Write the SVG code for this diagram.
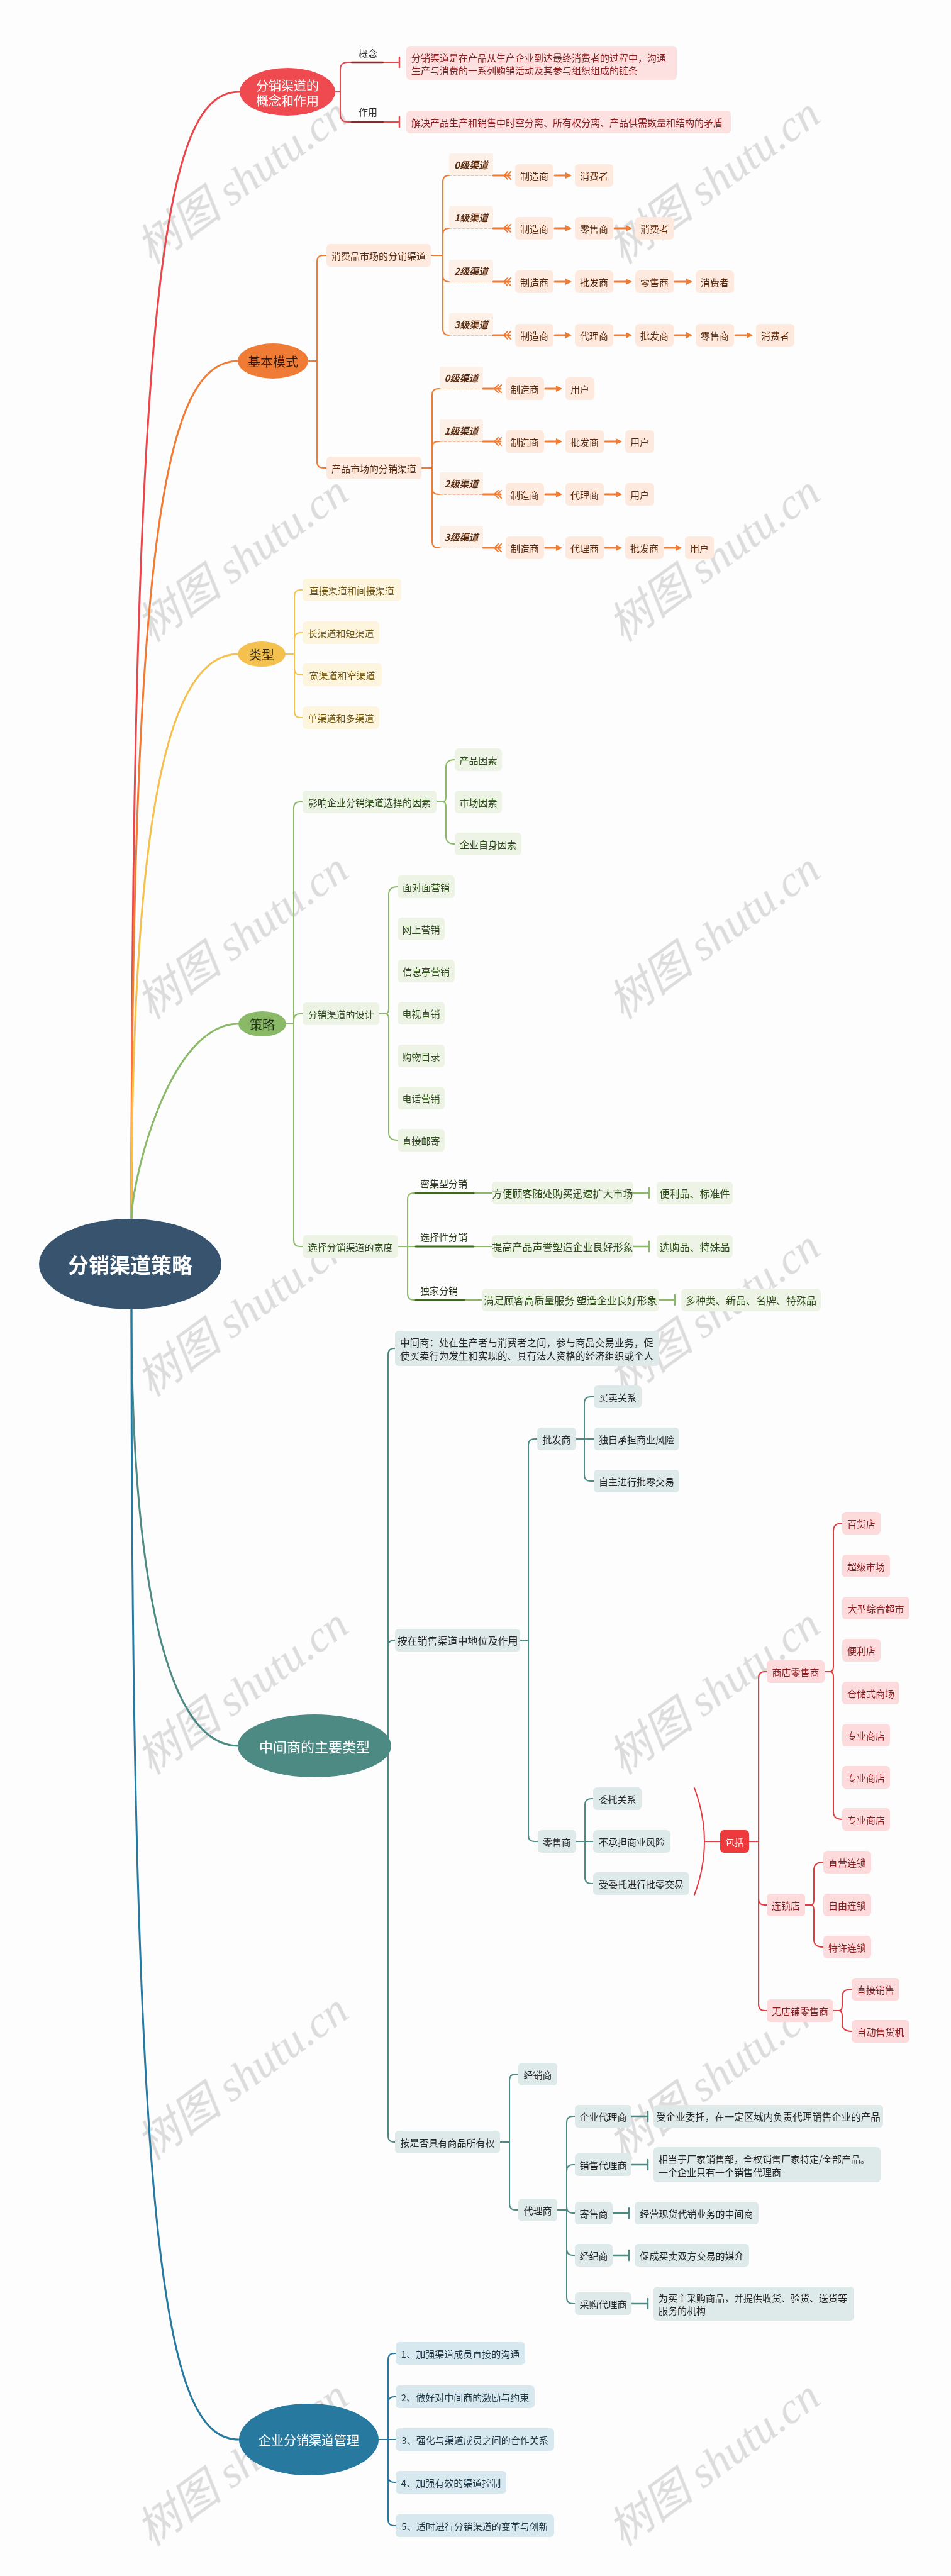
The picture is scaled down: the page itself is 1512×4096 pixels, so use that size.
<svg xmlns="http://www.w3.org/2000/svg" width="1512" height="4096" viewBox="0 0 1512 4096">
<defs>
<marker id="ar" viewBox="0 0 10 10" refX="7" refY="5" markerWidth="10" markerHeight="10" markerUnits="userSpaceOnUse" orient="auto"><path d="M0 0 L10 5 L0 10 z" fill="#ef7b35"/></marker>
</defs>
<style>
text{font-family:"Noto Sans CJK SC","Noto Sans",sans-serif;font-size:15px;dominant-baseline:central}
.c{text-anchor:middle}
rect{rx:6px;ry:6px}
.cn path{fill:none;stroke-width:2;stroke-linecap:round}
.main path{fill:none;stroke-width:3;stroke-linecap:round}
.r1 rect{fill:#fde1e0}.r1 text{fill:#8a1f22}
.or rect{fill:#fde9dd}.or text{fill:#5a2a0e}
.lb rect{fill:#fdf0e7}.lb text{fill:#5a2a0e;font-weight:bold;font-style:italic}
.ye rect{fill:#fef5df}.ye text{fill:#6f5612}
.gr rect{fill:#edf4e6}.gr text{fill:#304d1c}
.g16 text{font-size:16px}
.te rect{fill:#deeaea}.te text{fill:#262626}
.pk rect{fill:#fddadb}.pk text{fill:#8a1c1f}
.bl rect{fill:#d7e8ef}.bl text{fill:#213847}
.lab{fill:#333;font-size:15px}
.wm text{font-family:"Liberation Serif","Noto Sans CJK SC",serif;font-size:70px;font-style:italic;fill:#d0d0d0;text-anchor:middle}
</style>
<rect x="0" y="0" width="1512" height="4096" fill="#fdfdfd" style="rx:0;ry:0"/>

<g id="watermark" class="wm" opacity="0.75">
<text transform="translate(385 287) rotate(-36)">树图 shutu.cn</text>
<text transform="translate(1135 287) rotate(-36)">树图 shutu.cn</text>
<text transform="translate(385 888) rotate(-36)">树图 shutu.cn</text>
<text transform="translate(1135 888) rotate(-36)">树图 shutu.cn</text>
<text transform="translate(385 1488) rotate(-36)">树图 shutu.cn</text>
<text transform="translate(1135 1488) rotate(-36)">树图 shutu.cn</text>
<text transform="translate(385 2088) rotate(-36)">树图 shutu.cn</text>
<text transform="translate(1135 2088) rotate(-36)">树图 shutu.cn</text>
<text transform="translate(385 2689) rotate(-36)">树图 shutu.cn</text>
<text transform="translate(1135 2689) rotate(-36)">树图 shutu.cn</text>
<text transform="translate(385 3302) rotate(-36)">树图 shutu.cn</text>
<text transform="translate(1135 3302) rotate(-36)">树图 shutu.cn</text>
<text transform="translate(385 3916) rotate(-36)">树图 shutu.cn</text>
<text transform="translate(1135 3916) rotate(-36)">树图 shutu.cn</text>
</g>

<g id="connectors">
<g class="main">
<path d="M209 2010 L209 1940 C209 396 269 146 381 146" stroke="#e9474c"/>
<path d="M209 2010 L209 1940 C209 824 268 574 378 574" stroke="#ef7b35"/>
<path d="M209 2010 L209 1940 C209 1290 268 1040 379 1040" stroke="#f4c14f"/>
<path d="M209 2010 L209 1940 C209 1878 268 1628 379 1628" stroke="#8ab968"/>
<path d="M209 2010 L209 2080 C209 2526 268 2776 379 2776" stroke="#4d8a84"/>
<path d="M209 2010 L209 2080 C209 3629 268 3879 380 3879" stroke="#2879a0"/>
</g>
<g class="cn" id="cn-concept">
<path d="M533 146 H541 M541 146 V111 Q541 99 553 99 H635 M541 146 V182 Q541 194 553 194 H635" stroke="#e9474c"/>
<path d="M559 99 H609 M559 194 H609" stroke="#8a2a2a" style="stroke-width:2.5"/>
<path d="M635 91 V107 M635 186 V202" stroke="#e9474c" style="stroke-width:2.5"/>
</g>
<g class="cn" id="cn-basic" stroke="#ef7b35">
<path d="M490 574 H504 M504 574 V416 Q504 406 514 406 H519 M504 574 V734 Q504 744 514 744 H519"/>
<path d="M685 406 H704 M704 406 V289 Q704 279 714 279 M704 406 V373 Q704 363 714 363 M704 406 V438 Q704 448 714 448 M704 406 V523 Q704 533 714 533"/>
<path d="M670 744 H687 M687 744 V628 Q687 618 697 618 H699 M687 744 V712 Q687 702 697 702 H699 M687 744 V776 Q687 786 697 786 H699 M687 744 V861 Q687 871 697 871 H699"/>
<path d="M784 279 H811 M784 363 H811 M784 448 H811 M784 533 H811 M768 618 H796 M768 702 H796 M768 786 H796 M768 871 H796" style="stroke-width:3"/>
<path d="M807 273 L801 279 L807 285 M812 273 L806 279 L812 285 M807 357 L801 363 L807 369 M812 357 L806 363 L812 369 M807 442 L801 448 L807 454 M812 442 L806 448 L812 454 M807 527 L801 533 L807 539 M812 527 L806 533 L812 539"/>
<path d="M792 612 L786 618 L792 624 M797 612 L791 618 L797 624 M792 696 L786 702 L792 708 M797 696 L791 702 L797 708 M792 780 L786 786 L792 792 M797 780 L791 786 L797 792 M792 865 L786 871 L792 877 M797 865 L791 871 L797 877"/>
<path d="M714 279 H784 M714 363 H784 M714 448 H784 M714 533 H784 M699 618 H768 M699 702 H768 M699 786 H768 M699 871 H768" stroke="#f3a77a" style="stroke-width:1.5" stroke-dasharray="4 3"/>
<path marker-end="url(#ar)" style="stroke-width:3" d="M882 279 H906"/>
<path marker-end="url(#ar)" style="stroke-width:3" d="M882 363 H906"/>
<path marker-end="url(#ar)" style="stroke-width:3" d="M977 363 H1002"/>
<path marker-end="url(#ar)" style="stroke-width:3" d="M882 448 H906"/>
<path marker-end="url(#ar)" style="stroke-width:3" d="M977 448 H1002"/>
<path marker-end="url(#ar)" style="stroke-width:3" d="M1073 448 H1098"/>
<path marker-end="url(#ar)" style="stroke-width:3" d="M882 533 H906"/>
<path marker-end="url(#ar)" style="stroke-width:3" d="M977 533 H1002"/>
<path marker-end="url(#ar)" style="stroke-width:3" d="M1073 533 H1098"/>
<path marker-end="url(#ar)" style="stroke-width:3" d="M1169 533 H1194"/>
<path marker-end="url(#ar)" style="stroke-width:3" d="M867 618 H891"/>
<path marker-end="url(#ar)" style="stroke-width:3" d="M867 702 H891"/>
<path marker-end="url(#ar)" style="stroke-width:3" d="M962 702 H986"/>
<path marker-end="url(#ar)" style="stroke-width:3" d="M867 786 H891"/>
<path marker-end="url(#ar)" style="stroke-width:3" d="M962 786 H986"/>
<path marker-end="url(#ar)" style="stroke-width:3" d="M867 871 H891"/>
<path marker-end="url(#ar)" style="stroke-width:3" d="M962 871 H986"/>
<path marker-end="url(#ar)" style="stroke-width:3" d="M1057 871 H1081"/>
</g>
<g class="cn" id="cn-type" stroke="#f4c14f">
<path d="M454 1040 H468 M468 1040 V948 Q468 938 478 938 H481 M468 1040 V1016 Q468 1006 478 1006 H481 M468 1040 V1063 Q468 1073 478 1073 H481 M468 1040 V1131 Q468 1141 478 1141 H481"/>
</g>
<g class="cn" id="cn-strategy" stroke="#8ab968">
<path d="M455 1628 H467 M467 1628 V1285 Q467 1275 477 1275 H481 M467 1628 V1622 Q467 1612 477 1612 H481 M467 1628 V1972 Q467 1982 477 1982 H481"/>
<path d="M694 1275 H704 M723 1208 Q709 1208 709 1220 L709 1267 Q709 1275 704 1275 Q709 1275 709 1283 L709 1330 Q709 1342 723 1342"/>
<path d="M603 1612 H613 M632 1410 Q618 1410 618 1422 L618 1604 Q618 1612 613 1612 Q618 1612 618 1620 L618 1801 Q618 1813 632 1813"/>
<path d="M633 1982 H648 M648 1982 V1907 Q648 1897 658 1897 H782 M648 1982 H782 M648 1982 V2057 Q648 2067 658 2067 H766"/>
<path d="M661 1897 H753 M661 1982 H753 M661 2067 H738" stroke="#3d6a1f" style="stroke-width:3"/>
<path d="M1007 1897 H1032 M1032 1889 V1905 M1007 1982 H1032 M1032 1974 V1990 M1048 2067 H1073 M1073 2059 V2075" style="stroke-width:2.5"/>
</g>
<g class="cn" id="cn-middle" stroke="#4d8a84">
<path d="M617 2776 V2154 Q617 2144 627 2144 H628 M617 2776 V2618 Q617 2608 627 2608 H628 M617 2776 V3396 Q617 3406 627 3406 H628"/>
<path d="M827 2608 H840 M840 2608 V2298 Q840 2288 850 2288 H854 M840 2608 V2918 Q840 2928 850 2928 H855"/>
<path d="M916 2288 H944 M929 2288 V2231 Q929 2221 939 2221 H944 M929 2288 V2345 Q929 2355 939 2355 H944"/>
<path d="M916 2928 H943 M930 2928 V2870 Q930 2860 940 2860 H943 M930 2928 V2985 Q930 2995 940 2995 H943"/>
<path d="M795 3406 H810 M810 3406 V3308 Q810 3298 820 3298 H824 M810 3406 V3504 Q810 3514 820 3514 H824"/>
<path d="M886 3514 H901 M901 3514 V3375 Q901 3365 911 3365 H914 M901 3514 V3452 Q901 3442 911 3442 H914 M901 3514 V3509 Q901 3519 911 3519 H914 M901 3514 V3576 Q901 3586 911 3586 H914 M901 3514 V3653 Q901 3663 911 3663 H914"/>
<path d="M1004 3365 H1030 M1030 3357 V3373 M1004 3442 H1030 M1030 3434 V3450 M974 3519 H1000 M1000 3511 V3527 M974 3586 H1000 M1000 3578 V3594 M1004 3663 H1030 M1030 3655 V3671" style="stroke-width:2.5"/>
</g>
<g class="cn" id="cn-retail" stroke="#e23b3f">
<path d="M1104 2843 Q1136 2928 1104 3013 M1120 2928 H1145"/>
<path d="M1191 2928 H1206 M1206 2928 V2668 Q1206 2658 1216 2658 H1219 M1206 2928 V3019 Q1206 3029 1216 3029 H1219 M1206 2928 V3187 Q1206 3197 1216 3197 H1219"/>
<path d="M1311 2658 H1320 M1339 2422 Q1325 2422 1325 2434 L1325 2650 Q1325 2658 1320 2658 Q1325 2658 1325 2666 L1325 2881 Q1325 2893 1339 2893"/>
<path d="M1280 3029 H1289 M1309 2961 Q1294 2961 1294 2973 L1294 3021 Q1294 3029 1289 3029 Q1294 3029 1294 3037 L1294 3084 Q1294 3096 1309 3096"/>
<path d="M1325 3197 H1334 M1354 3163 Q1339 3163 1339 3175 L1339 3189 Q1339 3197 1334 3197 Q1339 3197 1339 3205 L1339 3218 Q1339 3230 1354 3230"/>
</g>
<g class="cn" id="cn-manage" stroke="#2879a0">
<path d="M602 3879 H629 M617 3879 V3752 Q617 3742 627 3742 H629 M617 3879 V3821 Q617 3811 627 3811 H629 M617 3879 V3937 Q617 3947 627 3947 H629 M617 3879 V4006 Q617 4016 627 4016 H629"/>
</g>
</g>

<g id="n-root"><ellipse cx="207" cy="2010" rx="145" ry="72" fill="#37536e"/><text class="c" x="207" y="2010" style="font-size:33px;font-weight:bold;fill:#fff">分销渠道策略</text></g>

<g id="n-concept"><ellipse cx="457" cy="146" rx="76" ry="38" fill="#ef4a50"/><text class="c" x="457" y="135" style="font-size:20px;fill:#fff">分销渠道的</text><text class="c" x="457" y="159" style="font-size:20px;fill:#fff">概念和作用</text></g>
<g id="n-concept-label1"><text class="lab" x="570" y="84">概念</text></g>
<g id="n-concept-label2"><text class="lab" x="570" y="177">作用</text></g>
<g id="n-concept-def" class="r1"><rect x="646" y="73" width="430" height="54"/><text x="654" y="91">分销渠道是在产品从生产企业到达最终消费者的过程中，沟通</text><text x="654" y="111">生产与消费的一系列购销活动及其参与组织组成的链条</text></g>
<g id="n-concept-use" class="r1"><rect x="646" y="176" width="516" height="36"/><text x="654" y="194">解决产品生产和销售中时空分离、所有权分离、产品供需数量和结构的矛盾</text></g>

<g id="n-basic"><ellipse cx="434" cy="574" rx="56" ry="28" fill="#ef7b35"/><text class="c" x="434" y="574" style="font-size:20px;fill:#3a1a06">基本模式</text></g>
<g id="n-consumer" class="or"><rect x="519" y="388" width="166" height="36"/><text class="c" x="602" y="406">消费品市场的分销渠道</text></g>
<g id="n-product" class="or"><rect x="519" y="726" width="151" height="36"/><text class="c" x="594.5" y="744">产品市场的分销渠道</text></g>

<g id="n-cl0" class="lb"><rect x="714" y="244" width="70" height="35" style="rx:2px"/><text class="c" x="749" y="261.5">0级渠道</text></g>
<g id="n-cl1" class="lb"><rect x="714" y="328" width="70" height="35" style="rx:2px"/><text class="c" x="749" y="345.5">1级渠道</text></g>
<g id="n-cl2" class="lb"><rect x="714" y="413" width="70" height="35" style="rx:2px"/><text class="c" x="749" y="430.5">2级渠道</text></g>
<g id="n-cl3" class="lb"><rect x="714" y="498" width="70" height="35" style="rx:2px"/><text class="c" x="749" y="515.5">3级渠道</text></g>

<g id="n-c0a" class="or"><rect x="819" y="261" width="61" height="36"/><text class="c" x="849.5" y="279">制造商</text></g>
<g id="n-c0b" class="or"><rect x="914" y="261" width="61" height="36"/><text class="c" x="944.5" y="279">消费者</text></g>
<g id="n-c1a" class="or"><rect x="819" y="345" width="61" height="36"/><text class="c" x="849.5" y="363">制造商</text></g>
<g id="n-c1b" class="or"><rect x="914" y="345" width="61" height="36"/><text class="c" x="944.5" y="363">零售商</text></g>
<g id="n-c1c" class="or"><rect x="1010" y="345" width="61" height="36"/><text class="c" x="1040.5" y="363">消费者</text></g>
<g id="n-c2a" class="or"><rect x="819" y="430" width="61" height="36"/><text class="c" x="849.5" y="448">制造商</text></g>
<g id="n-c2b" class="or"><rect x="914" y="430" width="61" height="36"/><text class="c" x="944.5" y="448">批发商</text></g>
<g id="n-c2c" class="or"><rect x="1010" y="430" width="61" height="36"/><text class="c" x="1040.5" y="448">零售商</text></g>
<g id="n-c2d" class="or"><rect x="1106" y="430" width="61" height="36"/><text class="c" x="1136.5" y="448">消费者</text></g>
<g id="n-c3a" class="or"><rect x="819" y="515" width="61" height="36"/><text class="c" x="849.5" y="533">制造商</text></g>
<g id="n-c3b" class="or"><rect x="914" y="515" width="61" height="36"/><text class="c" x="944.5" y="533">代理商</text></g>
<g id="n-c3c" class="or"><rect x="1010" y="515" width="61" height="36"/><text class="c" x="1040.5" y="533">批发商</text></g>
<g id="n-c3d" class="or"><rect x="1106" y="515" width="61" height="36"/><text class="c" x="1136.5" y="533">零售商</text></g>
<g id="n-c3e" class="or"><rect x="1202" y="515" width="61" height="36"/><text class="c" x="1232.5" y="533">消费者</text></g>

<g id="n-pl0" class="lb"><rect x="699" y="583" width="69" height="35" style="rx:2px"/><text class="c" x="733.5" y="600.5">0级渠道</text></g>
<g id="n-pl1" class="lb"><rect x="699" y="667" width="69" height="35" style="rx:2px"/><text class="c" x="733.5" y="684.5">1级渠道</text></g>
<g id="n-pl2" class="lb"><rect x="699" y="751" width="69" height="35" style="rx:2px"/><text class="c" x="733.5" y="768.5">2级渠道</text></g>
<g id="n-pl3" class="lb"><rect x="699" y="836" width="69" height="35" style="rx:2px"/><text class="c" x="733.5" y="853.5">3级渠道</text></g>

<g id="n-p0a" class="or"><rect x="804" y="600" width="61" height="36"/><text class="c" x="834.5" y="618">制造商</text></g>
<g id="n-p0b" class="or"><rect x="899" y="600" width="46" height="36"/><text class="c" x="922" y="618">用户</text></g>
<g id="n-p1a" class="or"><rect x="804" y="684" width="61" height="36"/><text class="c" x="834.5" y="702">制造商</text></g>
<g id="n-p1b" class="or"><rect x="899" y="684" width="61" height="36"/><text class="c" x="929.5" y="702">批发商</text></g>
<g id="n-p1c" class="or"><rect x="994" y="684" width="46" height="36"/><text class="c" x="1017" y="702">用户</text></g>
<g id="n-p2a" class="or"><rect x="804" y="768" width="61" height="36"/><text class="c" x="834.5" y="786">制造商</text></g>
<g id="n-p2b" class="or"><rect x="899" y="768" width="61" height="36"/><text class="c" x="929.5" y="786">代理商</text></g>
<g id="n-p2c" class="or"><rect x="994" y="768" width="46" height="36"/><text class="c" x="1017" y="786">用户</text></g>
<g id="n-p3a" class="or"><rect x="804" y="853" width="61" height="36"/><text class="c" x="834.5" y="871">制造商</text></g>
<g id="n-p3b" class="or"><rect x="899" y="853" width="61" height="36"/><text class="c" x="929.5" y="871">代理商</text></g>
<g id="n-p3c" class="or"><rect x="994" y="853" width="61" height="36"/><text class="c" x="1024.5" y="871">批发商</text></g>
<g id="n-p3d" class="or"><rect x="1089" y="853" width="46" height="36"/><text class="c" x="1112" y="871">用户</text></g>

<g id="n-type"><ellipse cx="416" cy="1040" rx="38" ry="20" fill="#f4c14f"/><text class="c" x="416" y="1040" style="font-size:20px;fill:#3a2a05">类型</text></g>
<g id="n-t1" class="ye"><rect x="481" y="920" width="157" height="36"/><text class="c" x="559.5" y="938">直接渠道和间接渠道</text></g>
<g id="n-t2" class="ye"><rect x="481" y="988" width="122" height="36"/><text class="c" x="542" y="1006">长渠道和短渠道</text></g>
<g id="n-t3" class="ye"><rect x="481" y="1055" width="126" height="36"/><text class="c" x="544" y="1073">宽渠道和窄渠道</text></g>
<g id="n-t4" class="ye"><rect x="481" y="1123" width="122" height="36"/><text class="c" x="542" y="1141">单渠道和多渠道</text></g>

<g id="n-strategy"><ellipse cx="417" cy="1628" rx="38" ry="20" fill="#8ab968"/><text class="c" x="417" y="1628" style="font-size:20px;fill:#1f3314">策略</text></g>
<g id="n-factors" class="gr"><rect x="481" y="1257" width="213" height="36"/><text class="c" x="587.5" y="1275">影响企业分销渠道选择的因素</text></g>
<g id="n-f1" class="gr"><rect x="723" y="1190" width="75" height="36"/><text class="c" x="760.5" y="1208">产品因素</text></g>
<g id="n-f2" class="gr"><rect x="723" y="1257" width="75" height="36"/><text class="c" x="760.5" y="1275">市场因素</text></g>
<g id="n-f3" class="gr"><rect x="723" y="1324" width="106" height="36"/><text class="c" x="776" y="1342">企业自身因素</text></g>
<g id="n-design" class="gr"><rect x="481" y="1594" width="122" height="36"/><text class="c" x="542" y="1612">分销渠道的设计</text></g>
<g id="n-d1" class="gr"><rect x="632" y="1392" width="91" height="36"/><text class="c" x="677.5" y="1410">面对面营销</text></g>
<g id="n-d2" class="gr"><rect x="632" y="1459" width="75" height="36"/><text class="c" x="669.5" y="1477">网上营销</text></g>
<g id="n-d3" class="gr"><rect x="632" y="1526" width="91" height="36"/><text class="c" x="677.5" y="1544">信息亭营销</text></g>
<g id="n-d4" class="gr"><rect x="632" y="1593" width="75" height="36"/><text class="c" x="669.5" y="1611">电视直销</text></g>
<g id="n-d5" class="gr"><rect x="632" y="1661" width="75" height="36"/><text class="c" x="669.5" y="1679">购物目录</text></g>
<g id="n-d6" class="gr"><rect x="632" y="1728" width="75" height="36"/><text class="c" x="669.5" y="1746">电话营销</text></g>
<g id="n-d7" class="gr"><rect x="632" y="1795" width="75" height="36"/><text class="c" x="669.5" y="1813">直接邮寄</text></g>
<g id="n-width" class="gr"><rect x="481" y="1964" width="152" height="36"/><text class="c" x="557" y="1982">选择分销渠道的宽度</text></g>
<g id="n-w1-label"><text x="668" y="1881" style="fill:#2a3a1a">密集型分销</text></g>
<g id="n-w2-label"><text x="668" y="1966" style="fill:#2a3a1a">选择性分销</text></g>
<g id="n-w3-label"><text x="668" y="2051" style="fill:#2a3a1a">独家分销</text></g>
<g id="n-w1" class="gr g16"><rect x="782" y="1879" width="225" height="36"/><text class="c" x="894.5" y="1897">方便顾客随处购买迅速扩大市场</text></g>
<g id="n-w1b" class="gr g16"><rect x="1044" y="1879" width="121" height="36"/><text class="c" x="1104.5" y="1897">便利品、标准件</text></g>
<g id="n-w2" class="gr g16"><rect x="782" y="1964" width="225" height="36"/><text class="c" x="894.5" y="1982">提高产品声誉塑造企业良好形象</text></g>
<g id="n-w2b" class="gr g16"><rect x="1044" y="1964" width="121" height="36"/><text class="c" x="1104.5" y="1982">选购品、特殊品</text></g>
<g id="n-w3" class="gr g16"><rect x="766" y="2049" width="282" height="36"/><text class="c" x="907" y="2067">满足顾客高质量服务 塑造企业良好形象</text></g>
<g id="n-w3b" class="gr g16"><rect x="1083" y="2049" width="222" height="36"/><text class="c" x="1194" y="2067">多种类、新品、名牌、特殊品</text></g>

<g id="n-middle"><ellipse cx="500" cy="2776" rx="122" ry="50" fill="#4d8a84"/><text class="c" x="500" y="2776" style="font-size:22px;fill:#fff">中间商的主要类型</text></g>
<g id="n-m-def" class="te"><rect x="628" y="2116" width="420" height="56"/><text x="636" y="2134" style="font-size:15.5px">中间商：处在生产者与消费者之间，参与商品交易业务，促</text><text x="636" y="2155" style="font-size:15.5px">使买卖行为发生和实现的、具有法人资格的经济组织或个人</text></g>
<g id="n-m-role" class="te"><rect x="628" y="2590" width="199" height="36"/><text class="c" x="727.5" y="2608" style="font-size:16px">按在销售渠道中地位及作用</text></g>
<g id="n-wholesale" class="te"><rect x="854" y="2270" width="62" height="36"/><text class="c" x="885" y="2288">批发商</text></g>
<g id="n-ws1" class="te"><rect x="944" y="2203" width="76" height="36"/><text class="c" x="982" y="2221">买卖关系</text></g>
<g id="n-ws2" class="te"><rect x="944" y="2270" width="136" height="36"/><text class="c" x="1012" y="2288">独自承担商业风险</text></g>
<g id="n-ws3" class="te"><rect x="944" y="2337" width="136" height="36"/><text class="c" x="1012" y="2355">自主进行批零交易</text></g>
<g id="n-retailer" class="te"><rect x="855" y="2910" width="61" height="36"/><text class="c" x="885.5" y="2928">零售商</text></g>
<g id="n-rt1" class="te"><rect x="943" y="2842" width="77" height="36"/><text class="c" x="981.5" y="2860">委托关系</text></g>
<g id="n-rt2" class="te"><rect x="943" y="2910" width="123" height="36"/><text class="c" x="1004.5" y="2928">不承担商业风险</text></g>
<g id="n-rt3" class="te"><rect x="943" y="2977" width="153" height="36"/><text class="c" x="1019.5" y="2995">受委托进行批零交易</text></g>
<g id="n-include"><rect x="1145" y="2910" width="46" height="36" fill="#ee3a3c"/><text class="c" x="1168" y="2928" style="fill:#fff">包括</text></g>
<g id="n-shop" class="pk"><rect x="1219" y="2640" width="92" height="36"/><text class="c" x="1265" y="2658">商店零售商</text></g>
<g id="n-s1" class="pk"><rect x="1339" y="2404" width="61" height="36"/><text class="c" x="1369.5" y="2422">百货店</text></g>
<g id="n-s2" class="pk"><rect x="1339" y="2472" width="76" height="36"/><text class="c" x="1377" y="2490">超级市场</text></g>
<g id="n-s3" class="pk"><rect x="1339" y="2539" width="107" height="36"/><text class="c" x="1392.5" y="2557">大型综合超市</text></g>
<g id="n-s4" class="pk"><rect x="1339" y="2606" width="61" height="36"/><text class="c" x="1369.5" y="2624">便利店</text></g>
<g id="n-s5" class="pk"><rect x="1339" y="2674" width="91" height="36"/><text class="c" x="1384.5" y="2692">仓储式商场</text></g>
<g id="n-s6" class="pk"><rect x="1339" y="2741" width="76" height="36"/><text class="c" x="1377" y="2759">专业商店</text></g>
<g id="n-s7" class="pk"><rect x="1339" y="2808" width="76" height="36"/><text class="c" x="1377" y="2826">专业商店</text></g>
<g id="n-s8" class="pk"><rect x="1339" y="2875" width="76" height="36"/><text class="c" x="1377" y="2893">专业商店</text></g>
<g id="n-chain" class="pk"><rect x="1219" y="3011" width="61" height="36"/><text class="c" x="1249.5" y="3029">连锁店</text></g>
<g id="n-ch1" class="pk"><rect x="1309" y="2943" width="76" height="36"/><text class="c" x="1347" y="2961">直营连锁</text></g>
<g id="n-ch2" class="pk"><rect x="1309" y="3011" width="76" height="36"/><text class="c" x="1347" y="3029">自由连锁</text></g>
<g id="n-ch3" class="pk"><rect x="1309" y="3078" width="76" height="36"/><text class="c" x="1347" y="3096">特许连锁</text></g>
<g id="n-nostore" class="pk"><rect x="1219" y="3179" width="106" height="36"/><text class="c" x="1272" y="3197">无店铺零售商</text></g>
<g id="n-ns1" class="pk"><rect x="1354" y="3145" width="76" height="36"/><text class="c" x="1392" y="3163">直接销售</text></g>
<g id="n-ns2" class="pk"><rect x="1354" y="3212" width="92" height="36"/><text class="c" x="1400" y="3230">自动售货机</text></g>
<g id="n-m-own" class="te"><rect x="628" y="3388" width="167" height="36"/><text class="c" x="711.5" y="3406">按是否具有商品所有权</text></g>
<g id="n-dealer" class="te"><rect x="824" y="3280" width="62" height="36"/><text class="c" x="855" y="3298">经销商</text></g>
<g id="n-agent" class="te"><rect x="824" y="3496" width="62" height="36"/><text class="c" x="855" y="3514">代理商</text></g>
<g id="n-a1" class="te"><rect x="914" y="3347" width="90" height="36"/><text class="c" x="959" y="3365">企业代理商</text></g>
<g id="n-a1d" class="te"><rect x="1039" y="3347" width="365" height="36"/><text class="c" x="1221.5" y="3365" style="font-size:15.5px">受企业委托，在一定区域内负责代理销售企业的产品</text></g>
<g id="n-a2" class="te"><rect x="914" y="3424" width="90" height="36"/><text class="c" x="959" y="3442">销售代理商</text></g>
<g id="n-a2d" class="te"><rect x="1039" y="3414" width="361" height="56"/><text x="1047" y="3432">相当于厂家销售部，全权销售厂家特定/全部产品。</text><text x="1047" y="3453">一个企业只有一个销售代理商</text></g>
<g id="n-a3" class="te"><rect x="914" y="3501" width="60" height="36"/><text class="c" x="944" y="3519">寄售商</text></g>
<g id="n-a3d" class="te"><rect x="1009" y="3501" width="197" height="36"/><text class="c" x="1107.5" y="3519">经营现货代销业务的中间商</text></g>
<g id="n-a4" class="te"><rect x="914" y="3568" width="60" height="36"/><text class="c" x="944" y="3586">经纪商</text></g>
<g id="n-a4d" class="te"><rect x="1009" y="3568" width="182" height="36"/><text class="c" x="1100" y="3586">促成买卖双方交易的媒介</text></g>
<g id="n-a5" class="te"><rect x="914" y="3645" width="90" height="36"/><text class="c" x="959" y="3663">采购代理商</text></g>
<g id="n-a5d" class="te"><rect x="1039" y="3636" width="319" height="54"/><text x="1047" y="3653">为买主采购商品，并提供收货、验货、送货等</text><text x="1047" y="3673">服务的机构</text></g>

<g id="n-manage"><ellipse cx="491" cy="3879" rx="111" ry="57" fill="#2879a0"/><text class="c" x="491" y="3879" style="font-size:20px;fill:#fff">企业分销渠道管理</text></g>
<g id="n-g1" class="bl"><rect x="629" y="3724" width="206" height="36"/><text class="c" x="732" y="3742">1、加强渠道成员直接的沟通</text></g>
<g id="n-g2" class="bl"><rect x="629" y="3793" width="221" height="36"/><text class="c" x="739.5" y="3811">2、做好对中间商的激励与约束</text></g>
<g id="n-g3" class="bl"><rect x="629" y="3861" width="252" height="36"/><text class="c" x="755" y="3879">3、强化与渠道成员之间的合作关系</text></g>
<g id="n-g4" class="bl"><rect x="629" y="3929" width="176" height="36"/><text class="c" x="717" y="3947">4、加强有效的渠道控制</text></g>
<g id="n-g5" class="bl"><rect x="629" y="3998" width="252" height="36"/><text class="c" x="755" y="4016">5、适时进行分销渠道的变革与创新</text></g>
</svg>
